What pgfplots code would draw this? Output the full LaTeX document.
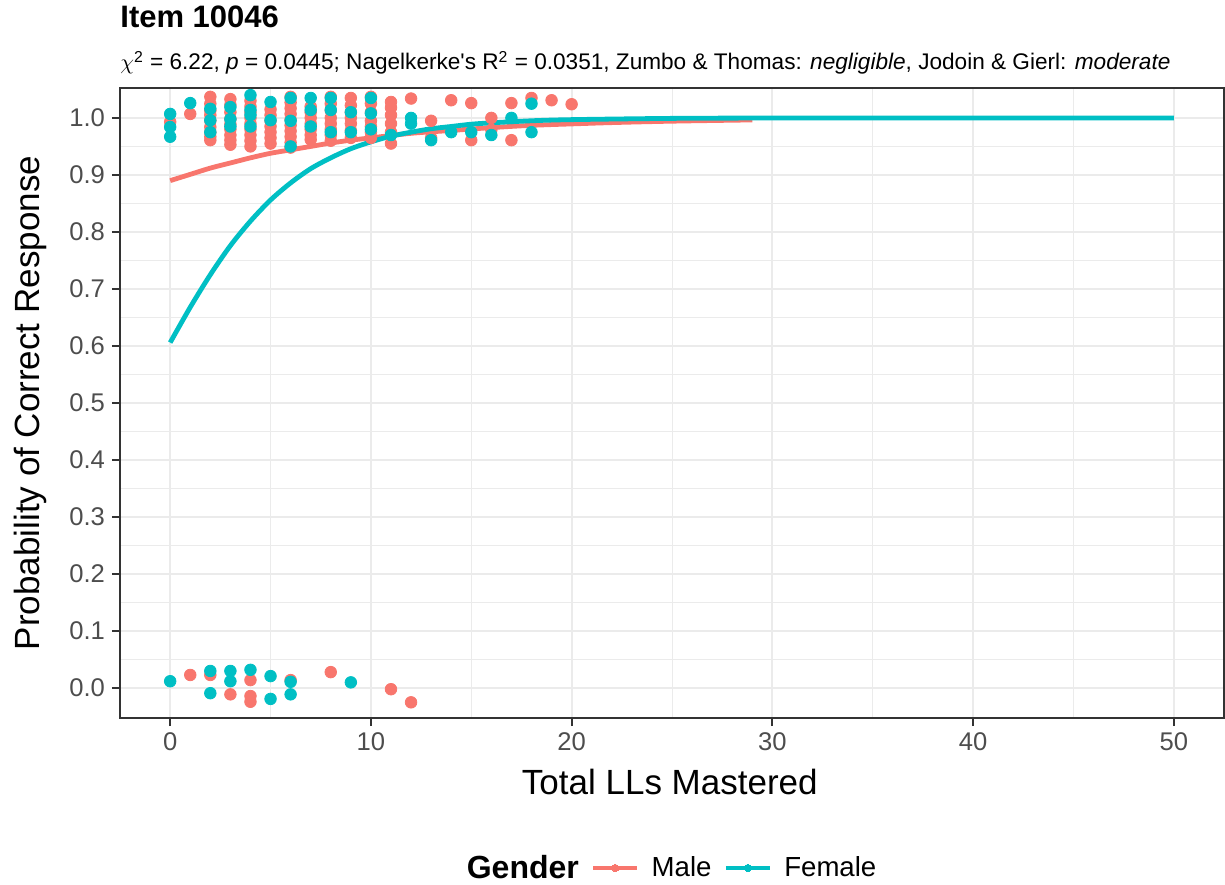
\documentclass[border=0pt]{standalone}
\usepackage{pgfplots}
\pgfplotsset{compat=1.18}
\usepackage{fontspec}
\setmainfont{Liberation Sans}
\definecolor{male}{HTML}{F8766D}
\definecolor{female}{HTML}{00BFC4}
\definecolor{gridc}{HTML}{EBEBEB}
\definecolor{gray20}{HTML}{333333}
\definecolor{gray30}{HTML}{4D4D4D}

\pgfplotstableread{
x y
0 0.993
1 1.007
2 1.037
2 1.025
2 1.013
2 1.005
2 0.995
2 0.984
2 0.975
2 0.967
2 0.961
3 1.033
3 1.023
3 1.010
3 0.998
3 0.989
3 0.980
3 0.970
3 0.961
3 0.953
4 1.030
4 1.020
4 1.010
4 1.000
4 0.990
4 0.980
4 0.970
4 0.960
4 0.950
5 1.015
5 1.005
5 0.995
5 0.985
5 0.975
5 0.965
5 0.955
6 1.037
6 1.027
6 1.017
6 1.007
6 0.997
6 0.987
6 0.977
6 0.967
6 0.957
6 0.948
7 1.020
7 1.010
7 1.000
7 0.990
7 0.980
7 0.970
7 0.962
8 1.037
8 1.025
8 1.013
8 1.000
8 0.990
8 0.980
8 0.970
8 0.960
9 1.035
9 1.022
9 1.010
9 1.000
9 0.990
9 0.978
9 0.965
10 1.037
10 1.025
10 1.010
10 0.995
10 0.985
10 0.975
10 0.965
11 1.028
11 1.018
11 1.005
11 0.990
11 0.975
11 0.955
12 1.034
13 0.995
13 0.965
14 1.031
15 1.026
15 0.961
16 1.000
16 0.979
17 1.026
17 0.961
18 1.035
19 1.031
20 1.024
1 0.023
2 0.023
3 -0.011
4 0.014
4 -0.014
4 -0.024
6 0.014
8 0.028
11 -0.002
12 -0.025
}\malepts

\pgfplotstableread{
x y
0 1.007
0 0.984
0 0.967
1 1.026
2 1.016
2 0.996
2 0.975
3 1.019
3 0.998
3 0.985
4 1.040
4 1.014
4 1.005
4 0.985
5 1.028
5 0.996
6 1.035
6 0.995
6 0.950
7 1.035
7 1.014
7 0.985
8 1.035
8 1.014
8 0.975
9 1.010
9 0.975
10 1.035
10 1.008
10 0.980
11 0.970
12 1.000
12 0.990
13 0.961
14 0.975
15 0.975
16 0.970
17 1.000
18 1.025
18 0.975
0 0.012
2 0.030
2 -0.009
3 0.030
3 0.012
4 0.032
5 0.021
5 -0.019
6 0.011
6 -0.011
9 0.010
}\femalepts

\pgfplotstableread{
x y
0 0.890
1 0.901
2 0.912
3 0.921
4 0.930
5 0.938
6 0.944
7 0.950
8 0.956
9 0.961
10 0.965
12 0.973
14 0.978
16 0.983
18 0.987
20 0.9895
22 0.9918
25 0.9943
29 0.9965
}\malecurve

\pgfplotstableread{
x y
0 0.606
1 0.668
2 0.725
3 0.776
4 0.819
5 0.856
6 0.886
7 0.911
8 0.930
9 0.946
10 0.958
11 0.968
12 0.975
13 0.981
14 0.985
15 0.989
16 0.9914
18 0.995
20 0.997
25 0.9992
30 0.9998
40 1.0
50 1.0
}\femalecurve

\begin{document}
\begin{tikzpicture}
\begin{axis}[
  scale only axis,
  width=552pt, height=315pt,
  xmin=-2.5, xmax=52.5,
  ymin=-0.0525, ymax=1.0525,
  xtick={0,10,20,30,40,50},
  minor xtick={5,15,25,35,45},
  ytick={0,0.1,0.2,0.3,0.4,0.5,0.6,0.7,0.8,0.9,1.0},
  minor ytick={0.05,0.15,0.25,0.35,0.45,0.55,0.65,0.75,0.85,0.95},
  yticklabel style={/pgf/number format/.cd, fixed, fixed zerofill, precision=1},
  /pgf/number format/assume math mode=true,
  grid=both,
  major grid style={color=gridc, line width=1pt},
  minor grid style={color=gridc, line width=0.5pt},
  axis line style={color=gray20, line width=1pt},
  tick align=outside,
  major tick length=4pt,
  minor tick length=0pt,
  tick style={color=gray20, line width=0.9pt},
  xtick pos=bottom, ytick pos=left,
  ticklabel style={color=gray30, font=\fontsize{12.8}{14}\selectfont},
  xlabel={Total LLs Mastered},
  ylabel={Probability of Correct Response},
  label style={font=\fontsize{17.5}{20}\selectfont, color=black},
  xlabel style={at={(axis description cs:0.498,-0.1016)}, anchor=center},
  ylabel style={at={(axis description cs:-0.0815,0.5)}, anchor=center},
  legend columns=-1,
  legend style={at={(axis description cs:0.496,-0.238)}, anchor=center, draw=none, fill=none,
    font=\fontsize{13.8}{16}\selectfont,
    /tikz/every even column/.append style={column sep=4pt},
    /tikz/every odd column/.append style={column sep=4pt}},
  legend image code/.code={\draw[mark repeat=2,mark phase=2,#1] plot coordinates {(0pt,0pt) (11pt,0pt) (22pt,0pt)};},
]
\coordinate (nw) at (rel axis cs:0,1);
\coordinate (sw) at (rel axis cs:0,0);
\coordinate (ne) at (rel axis cs:1,1);
\addlegendimage{empty legend}
\addlegendentry{\fontsize{16}{18}\selectfont\textbf{Gender}}
\addlegendimage{color=male, line width=2.4pt, mark=*, mark size=1.8pt, mark options={line width=0pt}}
\addlegendentry{Male}
\addlegendimage{color=female, line width=2.4pt, mark=*, mark size=1.8pt, mark options={line width=0pt}}
\addlegendentry{Female}
\addplot[only marks, mark=*, mark size=2.9pt, color=male, mark options={fill=male, draw=none}, forget plot] table {\malepts};
\addplot[only marks, mark=*, mark size=2.9pt, color=female, mark options={fill=female, draw=none}, forget plot] table {\femalepts};
\addplot[no marks, smooth, color=male, line width=2.4pt, forget plot] table {\malecurve};
\addplot[no marks, smooth, color=female, line width=2.4pt, forget plot] table {\femalecurve};
\end{axis}
\node[anchor=base west, inner sep=0pt, font=\fontsize{15.5}{17}\selectfont\bfseries] at ([yshift=30pt]nw) {Item 10046};
\node[anchor=base west, inner sep=0pt, font=\fontsize{11.3}{13}\selectfont] at ([yshift=9pt]nw) {$\chi$\textsuperscript{2} = 6.22, \textit{p} = 0.0445; Nagelkerke\textquotesingle s R\textsuperscript{2} = 0.0351, Zumbo \& Thomas: \textit{negligible}, Jodoin \& Gierl: \textit{moderate}};
\pgfresetboundingbox
\path ([xshift=-60pt,yshift=-83pt]sw) rectangle ([xshift=0.5pt,yshift=44pt]ne);
\end{tikzpicture}
\end{document}
